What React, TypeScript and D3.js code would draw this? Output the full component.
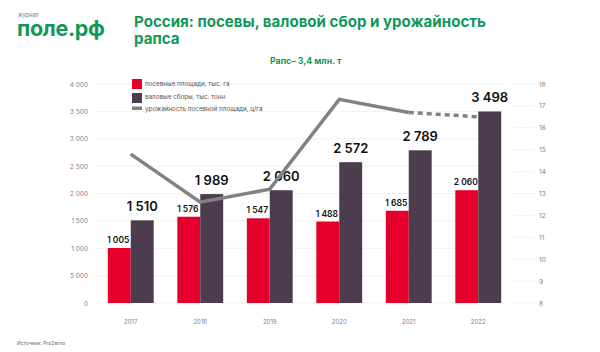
import React from "react";
import { scaleBand, scaleLinear, line } from "d3";

// data
const years = ["2017", "2018", "2019", "2020", "2021", "2022"];
const area = [1005, 1576, 1547, 1488, 1685, 2060]; // посевные площади, тыс. га
const harvest = [1510, 1989, 2060, 2572, 2789, 3498]; // валовые сборы, тыс. тонн
const yieldRate = [14.8, 12.6, 13.2, 17.3, 16.7, 16.5]; // урожайность, ц/га
const areaLabels = ["1 005", "1 576", "1 547", "1 488", "1 685", "2 060"];
const harvestLabels = ["1 510", "1 989", "2 060", "2 572", "2 789", "3 498"];
const leftTicks = [0, 500, 1000, 1500, 2000, 2500, 3000, 3500, 4000];
const leftTickLabels = ["0", "5 000", "1 000", "1 500", "2 000", "2 500", "3 000", "3 500", "4 000"];
const rightTicks = [8, 9, 10, 11, 12, 13, 14, 15, 16, 17, 18];
const legendItems = [
  "посевные площади, тыс. га",
  "валовые сборы, тыс. тонн",
  "урожайность посевной площади, ц/га",
];

const width = 600,
  height = 352;
const green = "#12975a";
const red = "#e4002b";
const plum = "#4b3d4e";
const grey = "#828282";
const font = "Inter, 'Noto Sans', sans-serif";

export default function App() {
  const x = scaleBand()
    .domain(years)
    .range([96, 513])
    .paddingInner(0.34)
    .paddingOuter(0.17);
  const yL = scaleLinear().domain([0, 4000]).range([303, 84]);
  const yR = scaleLinear().domain([8, 18]).range([303, 84]);
  const bw = x.bandwidth() / 2;
  const cx = (y: string) => (x(y) as number) + bw;

  const pts: [number, number][] = years.map((y, i) => [cx(y), yR(yieldRate[i])]);
  const lineGen = line<[number, number]>();
  const solid = lineGen(pts.slice(0, 5)) as string;
  const dashed = lineGen(pts.slice(4)) as string;

  return (
    <svg
      width={width}
      height={height}
      style={{ position: "absolute", left: 0, top: 0, background: "#fff", fontFamily: font }}
    >
      {/* logo */}
      <text x={18} y={17} fontSize={5.5} fill="#777">журнал</text>
      <text x={17} y={36} fontSize={21.5} fontWeight={700} fill={green} letterSpacing={-0.3}>
        поле.рф
      </text>

      {/* title */}
      <text x={134} y={27} fontSize={15.1} fontWeight={700} fill={green}>
        Россия: посевы, валовой сбор и урожайность
      </text>
      <text x={134} y={44} fontSize={15.1} fontWeight={700} fill={green}>
        рапса
      </text>
      <text x={270} y={64} fontSize={8.8} fontWeight={700} fill={green}>
        Рапс– 3,4 млн. т
      </text>

      {/* grid + left axis */}
      {leftTicks.map((t, i) => (
        <g key={t}>
          <line x1={95} x2={503} y1={yL(t)} y2={yL(t)} stroke="#ededed" strokeWidth={0.8} />
          <text x={88} y={yL(t) + 2.5} fontSize={6.5} fill={grey} textAnchor="end">
            {leftTickLabels[i]}
          </text>
        </g>
      ))}

      {/* right axis */}
      {rightTicks.map((t) => (
        <g key={t}>
          <line x1={513} x2={534} y1={yR(t)} y2={yR(t)} stroke="#ededed" strokeWidth={0.8} />
          <text x={539} y={yR(t) + 2.5} fontSize={6.5} fill={grey}>
            {t}
          </text>
        </g>
      ))}

      {/* bars */}
      {years.map((y, i) => (
        <g key={y}>
          <rect x={x(y)} y={yL(area[i])} width={bw} height={yL(0) - yL(area[i])} fill={red} />
          <rect x={cx(y)} y={yL(harvest[i])} width={bw} height={yL(0) - yL(harvest[i])} fill={plum} />
          <text x={cx(y) + bw / 2} y={yL(harvest[i]) - 9} fontSize={13} fontWeight={600} fill="#111" textAnchor="middle">
            {harvestLabels[i]}
          </text>
          <text x={(x(y) as number) + bw / 2 - 1} y={yL(area[i]) - 5} fontSize={8.5} fontWeight={600} fill="#111" textAnchor="middle">
            {areaLabels[i]}
          </text>
          <text x={cx(y)} y={324} fontSize={6} fill={grey} textAnchor="middle">
            {y}
          </text>
        </g>
      ))}

      {/* yield line */}
      <path d={solid} fill="none" stroke={grey} strokeWidth={3.5} />
      <path d={dashed} fill="none" stroke={grey} strokeWidth={3.5} strokeDasharray="5 4" />

      {/* legend */}
      {legendItems.map((l, i) => (
        <g key={l}>
          {i < 2 ? (
            <rect x={132} y={79 + i * 14} width={10} height={10} fill={i === 0 ? red : plum} />
          ) : (
            <rect x={132} y={106.5} width={10} height={3.5} fill={grey} />
          )}
          <text x={145} y={86 + i * 12.5} fontSize={6.3} fill="#555">
            {l}
          </text>
        </g>
      ))}

      {/* source */}
      <text x={17} y={345} fontSize={5} fill="#666">Источник: ProZerno</text>
    </svg>
  );
}
